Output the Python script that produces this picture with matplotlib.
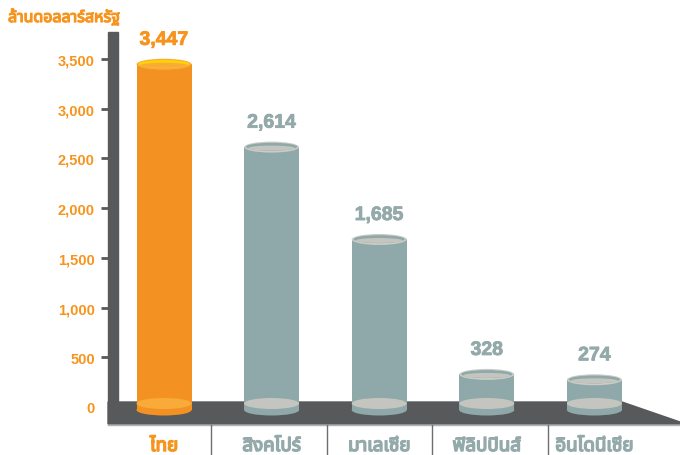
import matplotlib
matplotlib.use("Agg")
import matplotlib.pyplot as plt
from matplotlib import font_manager as fm
from matplotlib import transforms as mtransforms
from matplotlib import patheffects as pe
from matplotlib.ft2font import FT2Font
from matplotlib.patches import Ellipse, Rectangle, Polygon
from matplotlib.lines import Line2D
from matplotlib.ticker import FuncFormatter

# --- data -------------------------------------------------------------
countries = ["ไทย", "สิงคโปร์", "มาเลเซีย", "ฟิลิปปินส์", "อินโดนีเซีย"]
values = [3447, 2614, 1685, 328, 274]
value_labels = ["3,447", "2,614", "1,685", "328", "274"]
y_ticks = [0, 500, 1000, 1500, 2000, 2500, 3000, 3500]
unit_title = "ล้านดอลลาร์สหรัฐ"

# --- style ------------------------------------------------------------
ORANGE = "#F39222"
ORANGE_TXT = "#F7941D"
ORANGE_LIGHT = "#F9AB3A"
YELLOW = "#FFD200"
TEAL = "#8FA8AA"
TEAL_TXT = "#93A9AA"
GREY_LIGHT = "#C4C5BE"
GREY_RIM = "#CBCCC6"
FLOOR = "#58595B"


def thai_family():
    """Pick an installed family with Thai glyphs, loopless styles first."""
    found = []
    for f in fm.fontManager.ttflist:
        try:
            cmap = FT2Font(f.fname).get_charmap()
        except Exception:
            continue
        if 0x0E01 in cmap:
            found.append(f.name)
    if not found:
        return None

    def rank(name):
        n = name.lower()
        score = 0
        if "looped" in n:
            score += 10
        if "noto sans thai" in n:
            score -= 5
        if " ui" in n:
            score += 1
        return score

    return sorted(set(found), key=rank)[0]


THAI = thai_family()
thai_fams = [THAI, "DejaVu Sans"] if THAI else ["DejaVu Sans"]


def heavy(color, lw=1.0):
    return [pe.withStroke(linewidth=lw, foreground=color)]


W, H = 680, 456
fig = plt.figure(figsize=(W / 100, H / 100), dpi=100)


def fx(px):
    return px / W


def fy(py):
    return 1 - py / H


# axes: left edge at the wall, bottom edge at the floor's lower edge
ax_left, ax_right, ax_top, ax_bottom = 108, 680, 33, 425
ax = fig.add_axes([fx(ax_left), fy(ax_bottom), (ax_right - ax_left) / W,
                   (ax_bottom - ax_top) / H])

# scale: value 0 sits 17 px above the axes bottom, 348 px per 3500
px_per_unit = 348 / 3500
zero_off = 17
ax.set_ylim(-zero_off / px_per_unit,
            (ax_bottom - ax_top - zero_off) / px_per_unit)
first_center, step = 164, 107.6
ax.set_xlim((ax_left - first_center) / step, (ax_right - first_center) / step)
for s in ax.spines.values():
    s.set_visible(False)
ax.set_facecolor("none")

# y axis ticks and labels
ax.set_yticks(y_ticks)
ax.yaxis.set_major_formatter(FuncFormatter(lambda v, p: f"{int(v):,}"))
ax.tick_params(axis="y", direction="out", length=5.2, width=2,
               color=FLOOR, pad=4.3, labelsize=10.5, labelcolor=ORANGE_TXT)
for lab in ax.get_yticklabels():
    lab.set_fontweight("bold")
    lab.set_fontfamily("Liberation Sans")
ax.yaxis.get_major_ticks()[0].tick1line.set_visible(False)
ax.set_xticks([])

# wall and floor
ax.add_patch(Rectangle((fx(108), fy(403)), fx(118) - fx(108), fy(33) - fy(403),
                       transform=fig.transFigure, color=FLOOR, zorder=1,
                       clip_on=False))
ax.add_patch(Polygon([(fx(108), fy(403)), (fx(622), fy(403)), (fx(680), fy(423)),
                      (fx(680), fy(425)), (fx(108), fy(425))],
                     closed=True, transform=fig.transFigure, color=FLOOR,
                     zorder=1, clip_on=False))
fig.add_artist(Line2D([fx(108), fx(680)], [fy(425.5), fy(425.5)],
                      color="#B0B1B3", lw=1))
for sep in (211, 327, 432, 548):
    fig.add_artist(Line2D([fx(sep), fx(sep)], [fy(426), fy(456)],
                          color="#6D6E71", lw=1))

# cylinders
bw = 55 / step
eh = 11 / px_per_unit
base_rim = -3 / px_per_unit
base_face = 3.5 / px_per_unit

for i, (v, lbl) in enumerate(zip(values, value_labels)):
    thai = i == 0
    body = ORANGE if thai else TEAL
    face = ORANGE_LIGHT if thai else GREY_LIGHT
    rim = ORANGE_LIGHT if thai else GREY_RIM
    inner = YELLOW if thai else TEAL
    ax.add_patch(Rectangle((i - bw / 2, base_rim), bw, v - base_rim,
                           color=body, zorder=3, lw=0))
    ax.add_patch(Ellipse((i, base_rim), bw, eh, color=body, zorder=3, lw=0))
    ax.add_patch(Ellipse((i, base_face), bw, eh, color=face, zorder=4, lw=0))
    # top opening
    ax.add_patch(Ellipse((i, v), bw, eh, color=rim, zorder=5, lw=0))
    ax.add_patch(Ellipse((i, v + 0.3 / px_per_unit), bw * 0.93, eh * 0.72,
                         color=inner, zorder=6, lw=0))
    ax.add_patch(Ellipse((i, v - 1.0 / px_per_unit), bw * 0.85, eh * 0.45,
                         color=face, zorder=7, lw=0))
    col = ORANGE_TXT if thai else TEAL_TXT
    ax.annotate(lbl, (i, v), xytext=(0, 14), textcoords="offset points",
                ha="center", va="baseline", fontsize=14, fontweight="bold",
                family="Liberation Sans", color=col, zorder=8,
                path_effects=heavy(col, 0.6))

# category names under the floor
name_tr = mtransforms.blended_transform_factory(ax.transData, fig.transFigure)
for i, name in enumerate(countries):
    col = ORANGE_TXT if i == 0 else TEAL_TXT
    ax.text(i, fy(452), name, transform=name_tr,
            ha="center", va="baseline", fontsize=13.5, fontweight="bold",
            family=thai_fams, color=col, clip_on=False,
            path_effects=heavy(col, 1.1))

fig.text(fx(8), fy(23), unit_title, ha="left", va="baseline", fontsize=11.5,
         fontweight="bold", family=thai_fams, color=ORANGE_TXT,
         path_effects=heavy(ORANGE_TXT, 0.9))

fig.savefig("out.png", dpi=100, facecolor="white")
